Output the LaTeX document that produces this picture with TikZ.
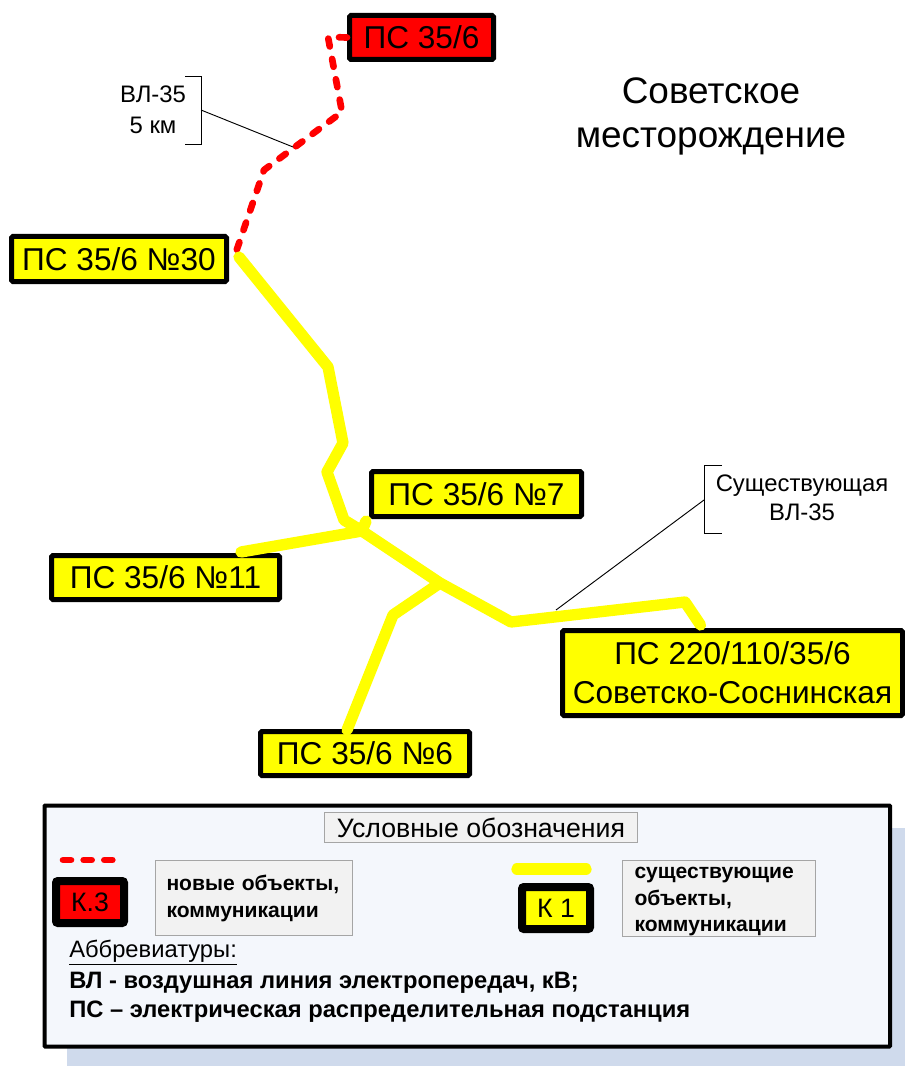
\documentclass[tikz,border=0pt]{standalone}
\usepackage{fontspec}
\setmainfont{Liberation Sans}
\usetikzlibrary{arrows.meta}
\definecolor{myred}{RGB}{255,0,0}
\definecolor{myyellow}{RGB}{255,255,0}
\definecolor{legendbg}{RGB}{244,247,252}
\definecolor{legendshadow}{RGB}{207,218,236}
\definecolor{notebg}{RGB}{242,242,242}
\definecolor{noteline}{RGB}{165,165,165}
\tikzset{
  subst/.style={draw=black,line width=3.75pt,rounded corners=1pt,inner sep=0pt,align=center,
    font=\fontsize{23.7}{29}\selectfont},
  keybox/.style={draw=black,line width=6pt,rounded corners=1.5pt,inner sep=0pt,
    minimum width=51pt,minimum height=31.5pt,font=\fontsize{20}{24}\selectfont},
  newline/.style={myred,line width=5pt,line cap=round,line join=round,dash pattern=on 6pt off 9.5pt},
  oldline/.style={myyellow,line width=8.5pt,line cap=round,line join=round},
  callout/.style={black,line width=0.7pt},
  note/.style={draw=noteline,fill=notebg,line width=0.75pt,inner ysep=0pt,align=left,
    font=\fontsize{15.8}{20}\selectfont\bfseries},
  plain/.style={inner sep=0pt,align=center},
}
\begin{document}
\begin{tikzpicture}[x=0.75pt,y=-0.75pt]
  \useasboundingbox (0,0) rectangle (905,1066);
  % substations
  \node[subst,fill=myred,minimum width=108pt,minimum height=33pt] (ps35) at(421.5,37.5){ПС 35/6};
  \node[subst,fill=myyellow,minimum width=161.25pt,minimum height=33.75pt] (n30) at(119,259){ПС 35/6 №30};
  \node[subst,fill=myyellow,minimum width=157.5pt,minimum height=33.75pt] (n7) at(476.5,494){ПС 35/6 №7};
  \node[subst,fill=myyellow,minimum width=171pt,minimum height=33pt] (n11) at(165.5,577.5){ПС 35/6 №11};
  \node[subst,fill=myyellow,minimum width=255pt,minimum height=63.75pt] (sosn) at(732.5,673){ПС 220/110/35/6\\Советско-Соснинская};
  \node[subst,fill=myyellow,minimum width=156.75pt,minimum height=33pt] (n6) at(365,753.5){ПС 35/6 №6};
  % title
  \node[plain,font=\fontsize{27.7}{33}\selectfont] (title) at(711,116){Советское\\месторождение};
  % new line
  \coordinate (r1) at(328,37);
  \coordinate (r2) at(342,112);
  \coordinate (r3) at(264,170);
  \draw[newline] (ps35.west)--(r1)--(r2)--(r3)--([shift={(6,-4)}]n30.east);
  % existing lines
  \coordinate (y1) at(328,367);
  \coordinate (y2) at(343,443);
  \coordinate (y3) at(327,472);
  \coordinate (y4) at(344,520);
  \coordinate (y5) at(362,531);
  \coordinate (y6) at(440,583);
  \coordinate (y7) at(511,622);
  \coordinate (y8) at(685,602);
  \coordinate (y9) at(393,615);
  \draw[oldline] ([shift={(10,-2)}]n30.east)--(y1)--(y2)--(y3)--(y4)--(y5)--(y6)--(y7)--(y8)--([shift={(-32,-3)}]sosn.north);
  \draw[oldline] ([shift={(-3,2)}]n7.south west)--(y5)--([shift={(-41,-1)}]n11.north east);
  \draw[oldline] (y6)--(y9)--([shift={(-18,1)}]n6.north);
  % callouts
  \node[plain,font=\fontsize{17.9}{23.5}\selectfont] (vl) at(153,110){ВЛ-35\\5 км};
  \coordinate (vlb) at(201,110);
  \coordinate (vle) at(293,147);
  \draw[callout] (185,76)--(201,76)--(201,144)--(185,144);
  \draw[callout] (vlb)--(vle);
  \node[plain,font=\fontsize{17.9}{22}\selectfont] (ex) at(802,498){Существующая\\ВЛ-35};
  \coordinate (exb) at(704,500);
  \coordinate (exe) at(556,610);
  \draw[callout] (722,465)--(704,465)--(704,533)--(722,533);
  \draw[callout] (exb)--(exe);
  % legend
  \fill[legendshadow] (67,828) rectangle (905,1066);
  \draw[black,line width=3pt,fill=legendbg,rounded corners=0.5pt] (44.5,805.5) rectangle (890,1046.5);
  \node[note,align=center,font=\fontsize{20}{24}\selectfont,minimum width=235pt,minimum height=23pt] (head) at(481,827.5){Условные обозначения};
  \coordinate (ln1) at(63,860);
  \coordinate (ln2) at(116,860);
  \draw[newline] (ln1)--(ln2);
  \node[keybox,fill=myred] (k3) at(90,902){К.3};
  \node[note,anchor=north west,minimum height=56pt,inner xsep=8.25pt,text width=131.5pt] (nnew) at(155,860){\rule{0pt}{13pt}новые объекты,\\коммуникации};
  \coordinate (lo1) at(517,869);
  \coordinate (lo2) at(586,869);
  \draw[oldline] (lo1)--(lo2);
  \node[keybox,fill=myyellow] (k1) at(556,908){К 1};
  \node[note,anchor=north west,minimum height=56pt,inner xsep=9pt,text width=127pt] (nold) at(622,860){\rule{0pt}{13.5pt}существующие\\объекты,\\коммуникации};
  % abbreviations
  \node[plain,anchor=west,font=\fontsize{17.8}{22}\selectfont] (abbr) at(69,953){\underline{Аббревиатуры:}};
  \node[plain,anchor=west,font=\fontsize{17.8}{22}\selectfont\bfseries] (ab1) at(69,983){ВЛ - воздушная линия электропередач, кВ;};
  \node[plain,anchor=west,font=\fontsize{17.8}{22}\selectfont\bfseries] (ab2) at(69,1012){ПС – электрическая распределительная подстанция};
\end{tikzpicture}
\end{document}
